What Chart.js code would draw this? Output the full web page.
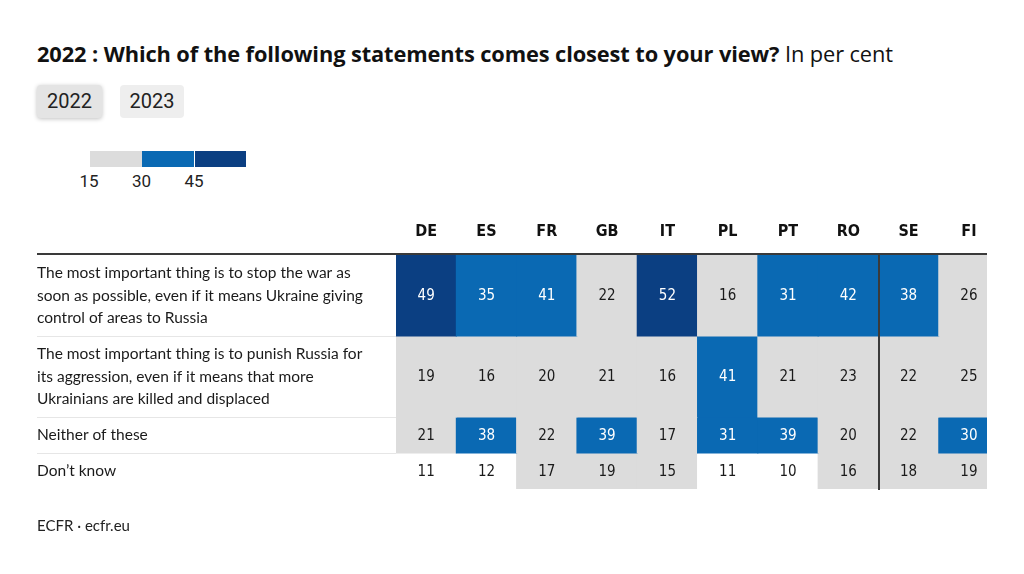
<!DOCTYPE html>
<html>
<head>
<meta charset="utf-8">
<script src="https://cdn.jsdelivr.net/npm/chart.js@4"></script>
<style>
  body { margin: 0; background: #fff; font-family: Lato, "Open Sans", sans-serif; color: #111; }
  #wrap { position: relative; width: 1024px; height: 574px; overflow: hidden; }
  #chart { position: absolute; left: 0; top: 0; }
  .title { position: absolute; left: 37px; top: 39px; font-family: "Open Sans", sans-serif; font-size: 21.8px; white-space: nowrap; letter-spacing: -0.1px; }
  .title b { font-weight: 700; }
  .btn { position: absolute; top: 85px; height: 33px; line-height: 33px; font-family: Roboto, sans-serif; font-size: 20px; text-align: center; border-radius: 4px; color: #222; }
  .btn.on { left: 37px; width: 65px; background: #e4e4e4; box-shadow: 0 1px 4px rgba(0,0,0,0.25); }
  .btn.off { left: 120px; width: 64px; background: #eeeeee; }
  .legend-bar { position: absolute; top: 151px; height: 16px; }
  .legend-tick { position: absolute; top: 171px; font-family: Roboto, sans-serif; font-size: 17px; color: #222; transform: translateX(-50%); }
  .source { position: absolute; left: 37px; top: 516px; font-size: 15px; color: #222; }
</style>
</head>
<body>
<div id="wrap">
  <div class="title"><b>2022 : Which of the following statements comes closest to your view?</b> In per cent</div>
  <div class="btn on">2022</div>
  <div class="btn off">2023</div>
  <div id="legend"></div>
  <canvas id="chart" width="1024" height="574"></canvas>
  <div class="source">ECFR · ecfr.eu</div>
</div>
<script>
// Countries (columns) and statements (rows)
const countries = ['DE', 'ES', 'FR', 'GB', 'IT', 'PL', 'PT', 'RO', 'SE', 'FI'];
const statements = [
    ['The most important thing is to stop the war as', 'soon as possible, even if it means Ukraine giving', 'control of areas to Russia'],
    ['The most important thing is to punish Russia for', 'its aggression, even if it means that more', 'Ukrainians are killed and displaced'],
    ['Neither of these'],
    ['Don\u2019t know']
];

// Values in per cent
const stopWar = [49, 35, 41, 22, 52, 16, 31, 42, 38, 26];
const punishRussia = [19, 16, 20, 21, 16, 41, 21, 23, 22, 25];
const neither = [21, 38, 22, 39, 17, 31, 39, 20, 22, 30];
const dontKnow = [11, 12, 17, 19, 15, 11, 10, 16, 18, 19];

// Legend thresholds
const legendTicks = [15, 30, 45];

const rows = [stopWar, punishRussia, neither, dontKnow];

// layout: row heights in pixels, table edges
const rowHeights = [81, 81, 36, 36];
const tableLeft = 37, tableRight = 987;

const GREY = '#dcdcdc', BLUE = '#0a69b3', DARK = '#0b3f82';

function cellColor(v) {
    if (v >= legendTicks[2]) return DARK;
    if (v >= legendTicks[1]) return BLUE;
    if (v >= legendTicks[0]) return GREY;
    return '#ffffff';
}

// legend in html
const legend = document.getElementById('legend');
const legendColors = [GREY, BLUE, DARK];
legendColors.forEach((c, i) => {
    const d = document.createElement('div');
    d.className = 'legend-bar';
    d.style.left = (90 + i * 52 + (i == 2 ? 1 : 0)) + 'px';
    d.style.width = (i == 2 ? 51 : 52) + 'px';
    d.style.background = c;
    legend.appendChild(d);
});
legendTicks.forEach((t, i) => {
    const d = document.createElement('div');
    d.className = 'legend-tick';
    d.style.left = (89 + i * 52.5) + 'px';
    d.textContent = t;
    legend.appendChild(d);
});

// build floating bars, one dataset per row
let start = 0;
const datasets = rows.map((vals, r) => {
    const y0 = start, y1 = start + rowHeights[r];
    start = y1;
    return {
        label: statements[r].join(' '),
        data: vals.map((v, i) => ({ x: i + 0.5, y: [y0, y1] })),
        values: vals,
        backgroundColor: vals.map(cellColor)
    };
});
const totalHeight = start;

// draws lines, labels and numbers
const tablePlugin = {
    id: 'table',
    beforeDatasetsDraw(chart) {
        const { ctx } = chart;
        const y = chart.scales.y;
        ctx.save();
        ctx.strokeStyle = '#e6e6e6';
        ctx.lineWidth = 1;
        let acc = 0;
        for (let r = 0; r < rowHeights.length - 1; r++) {
            acc += rowHeights[r];
            const py = Math.round(y.getPixelForValue(acc)) + 0.5;
            ctx.beginPath();
            ctx.moveTo(tableLeft, py);
            ctx.lineTo(tableRight, py);
            ctx.stroke();
        }
        ctx.restore();
    },
    afterDatasetsDraw(chart) {
        const { ctx, chartArea } = chart;
        const x = chart.scales.x, y = chart.scales.y;
        ctx.save();

        // header line
        ctx.fillStyle = '#3a3a3a';
        ctx.fillRect(tableLeft, chartArea.top - 2, tableRight - tableLeft, 2);

        // vertical divider before SE
        const vx = x.getPixelForValue(8);
        ctx.fillRect(Math.round(vx), chartArea.top, 2, chartArea.bottom - chartArea.top + 1);

        // column labels
        ctx.font = 'bold 16px "Liberation Sans Narrow", "DejaVu Sans Condensed", sans-serif';
        ctx.fillStyle = '#111';
        ctx.textAlign = 'center';
        ctx.textBaseline = 'middle';
        countries.forEach((c, i) => {
            ctx.fillText(c, x.getPixelForValue(i + 0.5), 232);
        });

        // cell values
        ctx.font = '15px "Liberation Sans Narrow", "DejaVu Sans Condensed", sans-serif';
        chart.data.datasets.forEach((ds, r) => {
            const meta = chart.getDatasetMeta(r);
            meta.data.forEach((bar, i) => {
                const v = ds.values[i];
                ctx.fillStyle = (v >= legendTicks[1]) ? '#ffffff' : '#1a1a1a';
                ctx.fillText(v, bar.x, (bar.y + bar.base) / 2 + 1);
            });
        });

        // row labels
        ctx.font = '15.5px Lato, "Open Sans", sans-serif';
        ctx.fillStyle = '#1a1a1a';
        ctx.textAlign = 'left';
        let acc = 0;
        statements.forEach((lines, r) => {
            const mid = y.getPixelForValue(acc + rowHeights[r] / 2);
            acc += rowHeights[r];
            const lh = 22.5;
            lines.forEach((line, k) => {
                ctx.fillText(line, tableLeft, mid + (k - (lines.length - 1) / 2) * lh);
            });
        });
        ctx.restore();
    }
};

const ctx = document.getElementById('chart').getContext('2d');
const chart = new Chart(ctx, {
    type: 'bar',
    data: { datasets: datasets },
    options: {
        responsive: false,
        animation: false,
        datasets: {
            bar: {
                borderWidth: 0,
                inflateAmount: 0.5,
                grouped: false,
                barPercentage: 1,
                categoryPercentage: 1
            }
        },
        layout: { padding: { left: 396, right: 1024 - tableRight, top: 255, bottom: 574 - 489 } },
        scales: {
            x: {
                type: 'linear', min: 0, max: 9.8, offset: false, display: false,
                // one tick per column so the bar width is a full column
                afterBuildTicks: axis => { axis.ticks = countries.map((c, i) => ({ value: i })); }
            },
            y: { type: 'linear', min: 0, max: totalHeight, reverse: true, display: false }
        },
        plugins: {
            legend: { display: false },
            tooltip: { enabled: false }
        }
    },
    plugins: [tablePlugin]
});
</script>
</body>
</html>
